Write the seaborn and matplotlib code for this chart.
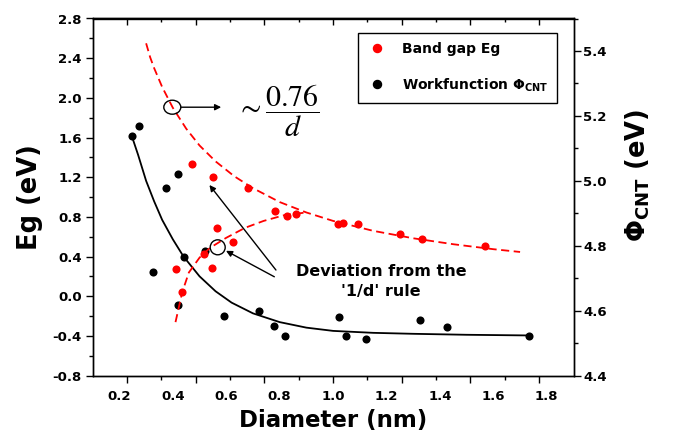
import numpy as np
import pandas as pd
import matplotlib
matplotlib.use("Agg")
import matplotlib.pyplot as plt
import seaborn as sns
from matplotlib.patches import Ellipse
from matplotlib.lines import Line2D
from matplotlib.ticker import MultipleLocator, FixedLocator

# ---------------- data ----------------
eg_diam = [0.473, 0.549, 0.683, 0.566, 0.627, 0.515, 0.412, 0.548, 0.435,
           0.782, 0.829, 0.862, 1.020, 1.036, 1.094, 1.252, 1.331, 1.567]
eg_val = [1.333, 1.199, 1.091, 0.688, 0.547, 0.423, 0.278, 0.282, 0.040,
          0.859, 0.814, 0.834, 0.728, 0.744, 0.726, 0.625, 0.580, 0.504]

wf_diam = [0.246, 0.275, 0.373, 0.418, 0.441, 0.521, 0.325, 0.420, 0.590,
           0.721, 0.779, 0.820, 1.023, 1.047, 1.123, 1.325, 1.425, 1.732]
wf_val = [5.139, 5.169, 4.977, 5.021, 4.766, 4.784, 4.719, 4.619, 4.585,
          4.600, 4.554, 4.521, 4.582, 4.521, 4.514, 4.571, 4.551, 4.521]

# 0.76/d guide curve (read points)
inv_d = [0.30, 0.315, 0.33, 0.36, 0.40, 0.45, 0.50, 0.56, 0.63, 0.70, 0.80,
         0.90, 1.00, 1.15, 1.30, 1.45, 1.60, 1.70]
inv_eg = [2.55, 2.41, 2.30, 2.11, 1.90, 1.69, 1.52, 1.36, 1.21, 1.09, 0.95,
          0.845, 0.76, 0.66, 0.585, 0.525, 0.475, 0.447]

# deviating branch (read points)
dev_d = [0.41, 0.435, 0.46, 0.50, 0.54, 0.60, 0.67, 0.74, 0.82, 0.90]
dev_eg = [-0.26, 0.04, 0.24, 0.39, 0.49, 0.59, 0.69, 0.76, 0.82, 0.845]

# workfunction fit (read points)
wff_d = [0.246, 0.27, 0.30, 0.33, 0.36, 0.40, 0.44, 0.50, 0.56, 0.62, 0.70,
         0.80, 0.90, 1.00, 1.15, 1.30, 1.50, 1.73]
wff_val = [5.139, 5.08, 5.00, 4.937, 4.88, 4.82, 4.767, 4.706, 4.66, 4.625,
           4.592, 4.565, 4.548, 4.538, 4.532, 4.529, 4.526, 4.524]

x_tick_vals = [0.2, 0.4, 0.6, 0.8, 1.0, 1.2, 1.4, 1.6, 1.8]
x_tick_labels = ["0.2", "0.4", "0.6", "0.8", "1.0", "1.2", "1.4", "1.6", "1.8"]
eg_tick_vals = [-0.8, -0.4, 0.0, 0.4, 0.8, 1.2, 1.6, 2.0, 2.4, 2.8]
eg_tick_labels = ["-0.8", "-0.4", "0.0", "0.4", "0.8", "1.2", "1.6", "2.0", "2.4", "2.8"]
wf_tick_vals = [4.4, 4.6, 4.8, 5.0, 5.2, 5.4]
wf_tick_labels = ["4.4", "4.6", "4.8", "5.0", "5.2", "5.4"]

legend_labels = ["Band gap Eg", "Workfunction Φ$_{\\mathbf{CNT}}$"]

# ---------------- figure ----------------
plt.rcParams["font.family"] = ["DejaVu Sans"]
plt.rcParams["axes.linewidth"] = 1.0

fig = plt.figure(figsize=(6.79, 4.44), dpi=100)
ax = fig.add_axes([92.7 / 679, 1 - 375.7 / 444, (573.5 - 92.7) / 679, (375.7 - 18.5) / 444])
ax2 = ax.twinx()

RED = "#ff0000"
dash = (0, (4.5, 2.5))

eg_df = pd.DataFrame({"d": eg_diam, "eg": eg_val})
wf_df = pd.DataFrame({"d": wf_diam, "wf": wf_val})

# workfunction (right axis)
sns.lineplot(x=wff_d, y=wff_val, ax=ax2, color="black", lw=1.3,
             estimator=None, sort=False, legend=False)
sns.scatterplot(data=wf_df, x="d", y="wf", ax=ax2, color="black", s=34,
                linewidth=0, legend=False, zorder=3)

# band gap (left axis)
sns.lineplot(x=inv_d, y=inv_eg, ax=ax, color=RED, lw=1.3, linestyle=dash,
             estimator=None, sort=False, legend=False)
sns.lineplot(x=dev_d, y=dev_eg, ax=ax, color=RED, lw=1.3, linestyle=dash,
             estimator=None, sort=False, legend=False)
sns.scatterplot(data=eg_df, x="d", y="eg", ax=ax, color=RED, s=34,
                linewidth=0, legend=False, zorder=3)

# left axis on top of twin
ax.set_zorder(ax2.get_zorder() + 1)
ax.patch.set_visible(False)

# x ticks (14 equal divisions, alternating lengths)
xt_all = np.linspace(0.1, 1.9, 15)[1:-1]
ax.xaxis.set_major_locator(FixedLocator(xt_all[0::2]))
ax.xaxis.set_minor_locator(FixedLocator(xt_all[1::2]))
ax.tick_params(axis="x", which="major", direction="out", length=5, width=1,
               labelbottom=False, bottom=True, top=False)
ax.tick_params(axis="x", which="minor", direction="out", length=3, width=1,
               bottom=True, top=False)

sec_top = ax.secondary_xaxis("top")
sec_top.xaxis.set_major_locator(FixedLocator(xt_all[0::2]))
sec_top.xaxis.set_minor_locator(FixedLocator(xt_all[1::2]))
sec_top.tick_params(axis="x", which="major", direction="in", length=5, width=1, labeltop=False)
sec_top.tick_params(axis="x", which="minor", direction="in", length=3, width=1)

sec_bot = ax.secondary_xaxis("bottom")
sec_bot.set_xticks(x_tick_vals, x_tick_labels, fontweight="bold")
sec_bot.tick_params(axis="x", which="both", length=0, pad=10.5, labelsize=9.5)
sec_bot.spines["bottom"].set_visible(False)
sec_bot.set_xlabel("Diameter (nm)", fontsize=16.5, fontweight="bold", labelpad=4)

# left y
ax.set_yticks(eg_tick_vals, eg_tick_labels, fontweight="bold")
ax.yaxis.set_minor_locator(MultipleLocator(0.2))
ax.tick_params(axis="y", which="major", direction="out", length=5, width=1,
               labelsize=9.5, pad=3)
ax.tick_params(axis="y", which="minor", direction="out", length=3, width=1)
ax.set_ylabel("Eg (eV)", fontsize=18.5, fontweight="bold", labelpad=7)
ax.set_xlabel("")

# right y
ax2.set_yticks(wf_tick_vals, wf_tick_labels, fontweight="bold")
ax2.yaxis.set_minor_locator(MultipleLocator(0.1))
ax2.tick_params(axis="y", which="major", direction="out", length=5, width=1,
                labelsize=9.5, pad=2)
ax2.tick_params(axis="y", which="minor", direction="out", length=3, width=1)
ax2.set_ylabel("Φ$_{\\mathbf{CNT}}$ (eV)", fontsize=18.5, fontweight="bold")
ax2.yaxis.set_label_coords(1.103, 0.56)

# limits
ax.set_xlim(0.1, 1.9)
ax.set_ylim(-0.8, 2.8)
ax2.set_ylim(4.4, 5.5)

for a in (ax, ax2):
    for s in a.spines.values():
        s.set_linewidth(1.0)
        s.set_color("black")

# legend
handles = [Line2D([], [], marker="o", color=RED, markersize=5.8, linestyle="none"),
           Line2D([], [], marker="o", color="black", markersize=5.8, linestyle="none")]
leg = ax.legend(handles, legend_labels, loc="upper right",
                bbox_to_anchor=(0.9657, 0.9594), borderaxespad=0,
                frameon=True, fancybox=False, edgecolor="black", framealpha=1,
                prop={"weight": "bold", "size": 10}, borderpad=0.65,
                handlelength=1.4, handletextpad=1.1, labelspacing=1.45)
leg.get_frame().set_linewidth(1.0)

# annotations
ax.add_patch(Ellipse((0.398, 1.906), 0.0636, 0.141, fill=False, ec="black", lw=1.0, zorder=4))
ax.annotate("", xy=(0.581, 1.906), xytext=(0.431, 1.906),
            arrowprops=dict(arrowstyle="-|>", color="black", lw=1.0,
                            mutation_scale=9, shrinkA=0, shrinkB=0))
ax.text(0.638, 1.868, r"$\sim\dfrac{0.76}{d}$", fontsize=21.5, math_fontfamily="stix",
        ha="left", va="center")

ax.add_patch(Ellipse((0.568, 0.494), 0.0561, 0.151, fill=False, ec="black", lw=1.0, zorder=4))
ax.annotate("", xy=(0.537, 1.122), xytext=(0.786, 0.265),
            arrowprops=dict(arrowstyle="-|>", color="black", lw=1.0,
                            mutation_scale=9, shrinkA=0, shrinkB=0))
ax.annotate("", xy=(0.599, 0.459), xytext=(0.780, 0.197),
            arrowprops=dict(arrowstyle="-|>", color="black", lw=1.0,
                            mutation_scale=9, shrinkA=0, shrinkB=0))
ax.text(1.180, 0.149, "Deviation from the\n'1/d' rule", ha="center", va="center",
        fontsize=11.5, fontweight="bold", multialignment="center", linespacing=1.45)

fig.savefig("out.png", dpi=100)
